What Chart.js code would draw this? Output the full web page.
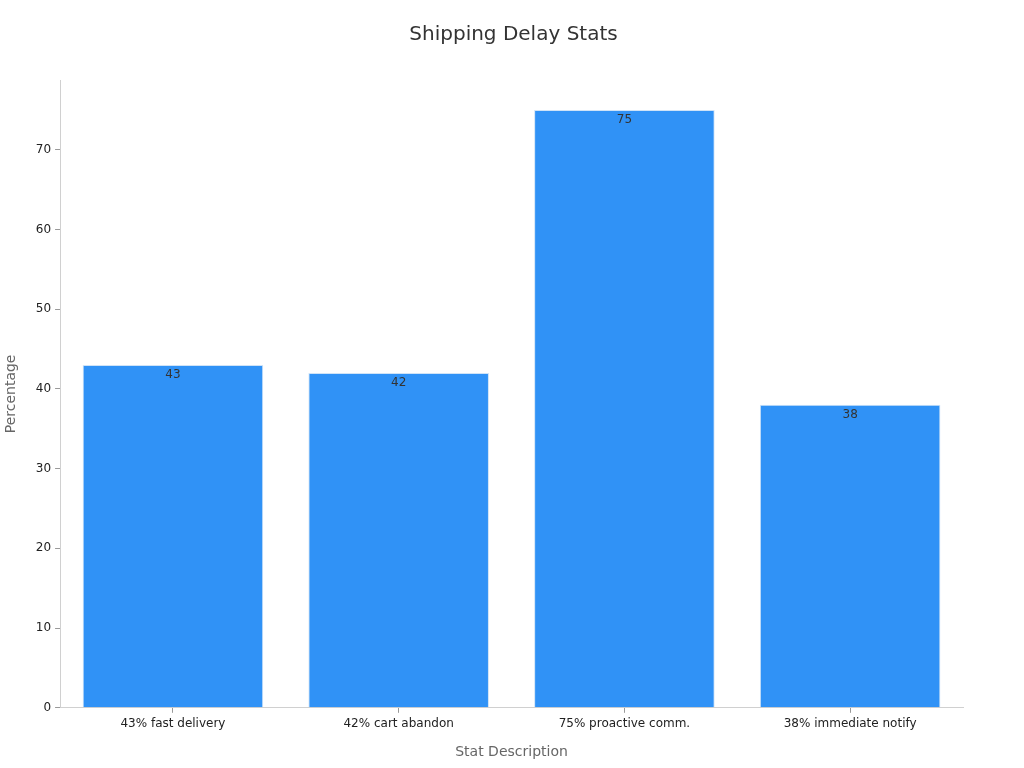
<!DOCTYPE html>
<html><head><meta charset="utf-8">
<script src="https://cdn.jsdelivr.net/npm/chart.js@4.4.0/dist/chart.umd.min.js"></script>
<style>html,body{margin:0;padding:0;background:#fff;}#wrap{width:1024px;height:768px;}</style>
</head><body><div id="wrap"><canvas id="c" width="1024" height="768"></canvas></div>
<script>
const categories = ["43% fast delivery", "42% cart abandon", "75% proactive comm.", "38% immediate notify"];
const values = [43, 42, 75, 38];
const yTicks = [0, 10, 20, 30, 40, 50, 60, 70];

const FONT = "'DejaVu Sans', sans-serif";
const labelPlugin = {
  id: 'barLabels',
  afterDatasetsDraw(chart) {
    const ctx = chart.ctx;
    const meta = chart.getDatasetMeta(0);
    ctx.save();
    ctx.font = "12px " + FONT;
    ctx.fillStyle = "#333333";
    ctx.textAlign = "center";
    ctx.textBaseline = "middle";
    meta.data.forEach((bar, i) => {
      ctx.fillText(String(values[i]), bar.x, bar.y + 10);
    });
    ctx.restore();
  }
};

new Chart(document.getElementById('c'), {
  type: 'bar',
  data: {
    labels: categories,
    datasets: [{
      data: values,
      backgroundColor: '#3092f6',
      borderColor: '#cfe3f7',
      borderWidth: 1,
      barPercentage: 0.8,
      categoryPercentage: 1.0
    }]
  },
  options: {
    responsive: false,
    animation: false,
    devicePixelRatio: 1,
    layout: { padding: { left: 3, right: 0, top: 0, bottom: 7 } },
    plugins: {
      legend: { display: false },
      tooltip: { enabled: false },
      title: {
        display: true,
        text: 'Shipping Delay Stats',
        color: '#333333',
        font: { family: FONT, size: 20, weight: 'normal' },
        padding: { top: 23, bottom: 33 }
      }
    },
    scales: {
      x: {
        grid: { display: true, drawOnChartArea: false, offset: false, tickLength: 5, color: '#999999' },
        border: { display: true, color: '#d0d0d0' },
        ticks: { color: '#222222', font: { family: FONT, size: 12 }, padding: 4 },
        title: { display: true, text: 'Stat Description', color: '#666666', font: { family: FONT, size: 14 }, padding: { top: 9, bottom: 0 } }
      },
      y: {
        min: 0,
        max: 78.75,
        afterBuildTicks(axis) { axis.ticks = yTicks.map(v => ({ value: v })); },
        grid: { display: true, drawOnChartArea: false, tickLength: 5, color: '#999999' },
        border: { display: true, color: '#d0d0d0' },
        ticks: { color: '#222222', font: { family: FONT, size: 12 }, padding: 4 },
        title: { display: true, text: 'Percentage', color: '#666666', font: { family: FONT, size: 14 }, padding: { top: 0, bottom: 12 } }
      },
      yRight: {
        position: 'right',
        display: true,
        grid: { display: false },
        border: { display: false },
        ticks: { display: false },
        afterFit(axis) { axis.width = 61; }
      }
    }
  },
  plugins: [labelPlugin]
});
</script></body></html>
